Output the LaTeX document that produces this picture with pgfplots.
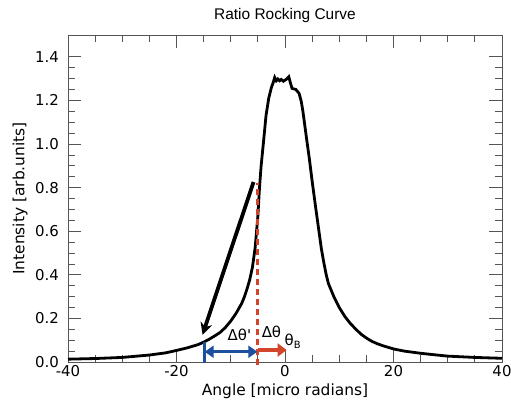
\documentclass[border=0pt]{standalone}
\usepackage{pgfplots}
\pgfplotsset{compat=1.18}
\usepackage{fontspec}
\setmainfont{DejaVu Sans}
\newfontfamily\titlefont{Liberation Sans}
\usetikzlibrary{arrows.meta}

\definecolor{arrred}{HTML}{D2452B}
\definecolor{arrblue}{HTML}{1C4F9E}
\definecolor{axgray}{HTML}{555555}

% Ratio rocking curve
\pgfplotstableread{
x y
-40 0.013
-35 0.016
-30 0.021
-25 0.032
-22 0.042
-20 0.053
-18 0.065
-16 0.080
-15 0.091
-14 0.104
-13 0.119
-12 0.135
-11 0.158
-10 0.188
-9 0.224
-8 0.268
-7.5 0.298
-7 0.335
-6.5 0.378
-6 0.435
-5.5 0.525
-5 0.670
-4.7 0.800
-4.4 0.900
-4 1.000
-3.5 1.130
-3 1.210
-2.5 1.260
-2.2 1.280
-1.9 1.305
-1.6 1.290
-1.3 1.298
-1.0 1.290
-0.7 1.296
-0.3 1.288
0.2 1.296
0.7 1.308
1.0 1.280
1.3 1.255
2.0 1.250
2.6 1.232
3.0 1.195
3.3 1.150
4.0 1.020
4.5 0.930
5.0 0.830
5.7 0.700
6.2 0.610
6.7 0.520
7.2 0.450
7.6 0.400
8.0 0.360
8.5 0.330
9.0 0.300
10.0 0.250
11.0 0.210
12.0 0.178
13.0 0.152
14.0 0.128
15.0 0.110
16.0 0.095
17.0 0.084
18.0 0.075
20.0 0.060
22.0 0.050
25.0 0.040
28.0 0.032
30.0 0.027
35.0 0.021
40.0 0.017
}\rocking

\begin{document}
\begin{tikzpicture}
\begin{axis}[
    name=ax,
    scale only axis,
    width=434bp, height=327bp,
    xmin=-40, xmax=40,
    ymin=0, ymax=1.5,
    xtick={-40,-20,...,40},
    ytick={0,0.2,...,1.4},
    minor x tick num=3,
    minor y tick num=3,
    tick align=inside,
    major tick length=13bp,
    minor tick length=7bp,
    axis line style={axgray, line width=0.8bp},
    tick style={axgray, line width=0.8bp},
    /pgf/number format/assume math mode=true,
    yticklabel style={/pgf/number format/fixed, /pgf/number format/fixed zerofill,
        /pgf/number format/precision=1, font=\fontsize{15}{17}\selectfont, inner sep=1bp, xshift=-8bp},
    xticklabel style={font=\fontsize{15}{17}\selectfont, inner sep=1bp, yshift=-2bp},
    xlabel={Angle [micro radians]},
    ylabel={Intensity [arb.units]},
    label style={font=\fontsize{15.5}{18}\selectfont},
    xlabel style={yshift=-3bp},
    ylabel style={yshift=3bp},
    title={Ratio Rocking Curve},
    title style={font=\titlefont\fontsize{15.5}{18}\selectfont, yshift=3bp},
    clip=false,
]
\addplot[black, line width=2.8bp] table[x=x, y=y] {\rocking};

% annotations
\draw[arrred, line width=2.8bp, dash pattern=on 6bp off 4bp] (axis cs:-5,-0.015) -- (axis cs:-5,0.82);
\draw[arrblue, line width=2.8bp] (axis cs:-14.9,-0.005) -- (axis cs:-14.9,0.09);
\draw[arrblue, line width=3bp, {Triangle[length=9bp,width=12bp]}-{Triangle[length=9bp,width=12bp]}]
    (axis cs:-14.8,0.047) -- (axis cs:-5.1,0.047);
\draw[arrred, line width=3.6bp, -{Triangle[length=9bp,width=13bp]}]
    (axis cs:-5,0.055) -- (axis cs:0.3,0.055);
\draw[black, line width=3.8bp, -{Stealth[length=12bp,width=12bp]}]
    (axis cs:-5.8,0.826) -- (axis cs:-15.2,0.125);
\node[font=\fontsize{15}{17}\selectfont] at (axis cs:-8.4,0.124) {Δθ\textquotesingle};
\node[font=\fontsize{15}{17}\selectfont] at (axis cs:-2.5,0.139) {Δθ};
\node[font=\fontsize{15}{17}\selectfont] at (axis cs:1.4,0.093) {θ\raisebox{-3bp}{\fontsize{10}{10}\selectfont B}};
\end{axis}
\pgfresetboundingbox
\path ([shift={(-68bp,-39bp)}]ax.south west) rectangle ([shift={(9bp,35bp)}]ax.north east);
\end{tikzpicture}
\end{document}
